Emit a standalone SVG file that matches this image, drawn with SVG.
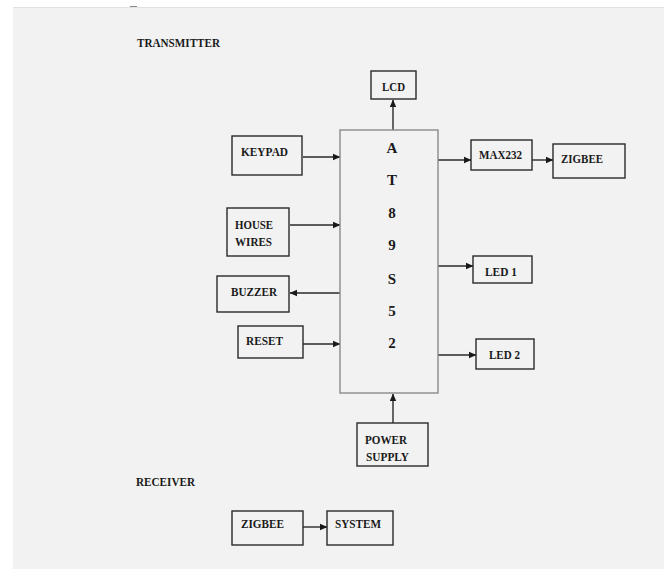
<svg xmlns="http://www.w3.org/2000/svg" width="669" height="569" viewBox="0 0 669 569">
<style>
.box{fill:#f2f2f2;stroke:#2a2a2a;stroke-width:1.4}
.main{fill:#f2f2f2;stroke:#8a8a8a;stroke-width:1.4}
.t{font-family:"Liberation Serif","Times New Roman",serif;font-weight:bold;font-size:13.5px;fill:#1a1a1a}
.big{font-family:"Liberation Serif","Times New Roman",serif;font-weight:bold;font-size:15px;fill:#1a1a1a;text-anchor:middle}
.c{stroke:#2a2a2a;stroke-width:1.4;fill:none;marker-end:url(#ah)}
</style>
<defs>
<marker id="ah" markerUnits="userSpaceOnUse" markerWidth="8" markerHeight="8" viewBox="0 0 8 8" refX="7" refY="4" orient="auto">
<path d="M0,0.8 L7.5,4 L0,7.2 Z" fill="#1a1a1a"/>
</marker>
</defs>
<rect x="0" y="0" width="669" height="569" fill="#ffffff"/>
<rect x="13" y="7" width="651" height="562" fill="#f2f2f2"/>
<line x1="13" y1="7.5" x2="664" y2="7.5" stroke="#e2e2e2" stroke-width="1"/>
<line x1="130" y1="6.5" x2="137" y2="6.5" stroke="#888" stroke-width="1"/>
<text class="t" x="137" y="47" textLength="83" lengthAdjust="spacingAndGlyphs">TRANSMITTER</text>
<text class="t" x="136" y="486" textLength="59" lengthAdjust="spacingAndGlyphs">RECEIVER</text>
<g id="connectors">
<line class="c" x1="393" y1="130" x2="393" y2="100"/>
<line class="c" x1="303" y1="157" x2="340" y2="157"/>
<line class="c" x1="290" y1="225" x2="340" y2="225"/>
<line class="c" x1="340" y1="293" x2="290" y2="293"/>
<line class="c" x1="303" y1="344" x2="340" y2="344"/>
<line class="c" x1="393" y1="423" x2="393" y2="394"/>
<line class="c" x1="438" y1="160" x2="471" y2="160"/>
<line class="c" x1="532" y1="160" x2="553" y2="160"/>
<line class="c" x1="438" y1="266" x2="473" y2="266"/>
<line class="c" x1="438" y1="355" x2="476" y2="355"/>
<line class="c" x1="303" y1="527" x2="327" y2="527"/>
</g>
<g id="mcu">
<rect class="main" x="340" y="130" width="98" height="263"/>
<text class="big" x="392" y="153">A</text>
<text class="big" x="392" y="185">T</text>
<text class="big" x="392" y="218">8</text>
<text class="big" x="392" y="250">9</text>
<text class="big" x="392" y="284">S</text>
<text class="big" x="392" y="316">5</text>
<text class="big" x="392" y="348">2</text>
</g>
<g id="lcd">
<rect class="box" x="371" y="71" width="45" height="28"/>
<text class="t" x="382" y="91" textLength="23" lengthAdjust="spacingAndGlyphs">LCD</text>
</g>
<g id="keypad">
<rect class="box" x="232" y="136" width="70" height="39"/>
<text class="t" x="241" y="156" textLength="47" lengthAdjust="spacingAndGlyphs">KEYPAD</text>
</g>
<g id="housewires">
<rect class="box" x="227" y="208" width="62" height="48"/>
<text class="t" x="235" y="229" textLength="38" lengthAdjust="spacingAndGlyphs">HOUSE</text>
<text class="t" x="235" y="246" textLength="37" lengthAdjust="spacingAndGlyphs">WIRES</text>
</g>
<g id="buzzer">
<rect class="box" x="217" y="276" width="72" height="36"/>
<text class="t" x="231" y="296" textLength="46" lengthAdjust="spacingAndGlyphs">BUZZER</text>
</g>
<g id="reset">
<rect class="box" x="238" y="326" width="65" height="32"/>
<text class="t" x="246" y="345" textLength="37" lengthAdjust="spacingAndGlyphs">RESET</text>
</g>
<g id="power">
<rect class="box" x="357" y="423" width="71" height="43"/>
<text class="t" x="365" y="444" textLength="42" lengthAdjust="spacingAndGlyphs">POWER</text>
<text class="t" x="366" y="461" textLength="43" lengthAdjust="spacingAndGlyphs">SUPPLY</text>
</g>
<g id="max232">
<rect class="box" x="471" y="140" width="61" height="30"/>
<text class="t" x="479" y="159" textLength="43" lengthAdjust="spacingAndGlyphs">MAX232</text>
</g>
<g id="zigbee-tx">
<rect class="box" x="553" y="144" width="72" height="34"/>
<text class="t" x="561" y="163" textLength="42" lengthAdjust="spacingAndGlyphs">ZIGBEE</text>
</g>
<g id="led1">
<rect class="box" x="473" y="256" width="59" height="27"/>
<text class="t" x="485" y="276" textLength="32" lengthAdjust="spacingAndGlyphs">LED 1</text>
</g>
<g id="led2">
<rect class="box" x="476" y="339" width="58" height="30"/>
<text class="t" x="489" y="359" textLength="31" lengthAdjust="spacingAndGlyphs">LED 2</text>
</g>
<g id="zigbee-rx">
<rect class="box" x="232" y="511" width="71" height="34"/>
<text class="t" x="241" y="528" textLength="43" lengthAdjust="spacingAndGlyphs">ZIGBEE</text>
</g>
<g id="system">
<rect class="box" x="327" y="511" width="66" height="34"/>
<text class="t" x="335" y="528" textLength="46" lengthAdjust="spacingAndGlyphs">SYSTEM</text>
</g>
</svg>
